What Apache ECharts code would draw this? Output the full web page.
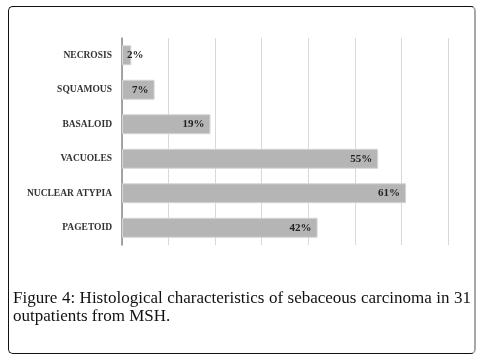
<!DOCTYPE html>
<html>
<head>
<meta charset="utf-8">
<script src="https://cdn.jsdelivr.net/npm/echarts@6/dist/echarts.min.js"></script>
<style>
	html, body { margin:0; padding:0; background:#fff; }
	#frame {
		position:absolute; left:8px; top:6px; width:468px; height:348px;
		border:1px solid #111; border-right:2px solid #a8a8a8; border-radius:5px;
		box-sizing:border-box;
	}
	#chart { position:absolute; left:0; top:0; width:488px; height:364px; }
	#caption {
		position:absolute; left:13px; top:289px; width:458px;
		font-family:"Liberation Serif", serif; font-size:17px; line-height:18px;
		color:#111; text-align:justify; text-align-last:left;
	}
</style>
</head>
<body>
<div id="frame"></div>
<div id="chart"></div>
<div id="caption">Figure 4: Histological characteristics of sebaceous carcinoma in 31 outpatients from MSH.</div>
<script>
	var categories = ['NECROSIS', 'SQUAMOUS', 'BASALOID', 'VACUOLES', 'NUCLEAR ATYPIA', 'PAGETOID'];
	var percents = [2, 7, 19, 55, 61, 42];

	var barData = [];
	for (var i = 0; i < percents.length; i++) {
		var item = { value: percents[i] };
		// the smallest bar is too short to hold its label
		if (percents[i] < 5) {
			item.label = { position: 'insideLeft', distance: 5 };
		}
		barData.push(item);
	}

	var myEchart = echarts.init(document.getElementById("chart"));
	var option = {
		animation: false,
		grid: { left: 122, right: 40, top: 38, height: 207 },
		xAxis: {
			type: 'value',
			min: 0, max: 70, interval: 10,
			axisLine: { show: false },
			axisTick: { show: false },
			axisLabel: { show: false },
			splitLine: { lineStyle: { color: '#d9d9d9', width: 1 } }
		},
		yAxis: {
			type: 'category',
			inverse: true,
			data: categories,
			axisLine: { show: true, lineStyle: { color: '#8a8a8a', width: 1.5 } },
			axisTick: { show: false },
			axisLabel: {
				margin: 10,
				color: '#333',
				fontFamily: 'Liberation Serif',
				fontWeight: 'bold',
				fontSize: 9.5
			}
		},
		series: [{
			type: 'bar',
			barWidth: 20,
			data: barData,
			itemStyle: { color: '#b5b5b5', borderColor: '#d6d6d6', borderWidth: 1 },
			label: {
				show: true,
				position: 'insideRight',
				distance: 6,
				formatter: '{c}%',
				color: '#222',
				fontFamily: 'Liberation Serif',
				fontWeight: 'bold',
				fontSize: 11
			}
		}]
	};
	myEchart.setOption(option);
</script>
</body>
</html>
